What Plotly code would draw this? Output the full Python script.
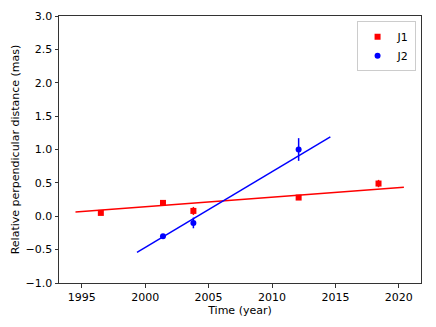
import plotly.graph_objects as go

# J1 measurements
j1_time = [1996.5, 2001.4, 2003.8, 2012.1, 2018.4]
j1_dist = [0.05, 0.20, 0.08, 0.28, 0.49]
j1_err = [0.03, 0.03, 0.06, 0.03, 0.055]

# J2 measurements
j2_time = [2001.4, 2003.8, 2012.1]
j2_dist = [-0.30, -0.10, 1.00]
j2_err = [0.03, 0.08, 0.17]

# linear fits (end points)
j1_fit_time = [1994.5, 2020.4]
j1_fit_dist = [0.065, 0.435]
j2_fit_time = [1999.35, 2014.6]
j2_fit_dist = [-0.54, 1.19]

fig = go.Figure()

fig.add_trace(go.Scatter(
    x=j1_fit_time, y=j1_fit_dist, mode='lines',
    line=dict(color='#ff0000', width=1.5),
    showlegend=False, hoverinfo='skip'
))
fig.add_trace(go.Scatter(
    x=j2_fit_time, y=j2_fit_dist, mode='lines',
    line=dict(color='#0000ff', width=1.5),
    showlegend=False, hoverinfo='skip'
))
fig.add_trace(go.Scatter(
    x=j1_time, y=j1_dist, mode='markers', name='J1',
    marker=dict(symbol='square', size=6, color='#ff0000'),
    error_y=dict(type='data', array=j1_err, color='#ff0000', thickness=1.5, width=0)
))
fig.add_trace(go.Scatter(
    x=j2_time, y=j2_dist, mode='markers', name='J2',
    marker=dict(symbol='circle', size=6, color='#0000ff'),
    error_y=dict(type='data', array=j2_err, color='#0000ff', thickness=1.5, width=0)
))

axis_style = dict(
    showline=True, linecolor='#333333', linewidth=1, mirror=True,
    ticks='outside', ticklen=3.5, tickcolor='#333333',
    showgrid=False, zeroline=False, automargin=False,
    tickfont=dict(family='DejaVu Sans', size=11, color='black'),
)

# the page body adds an 8px offset, so margins are shifted to compensate
fig.update_layout(
    width=436, height=327,
    margin=dict(l=51, r=23, t=8, b=52),
    paper_bgcolor='white', plot_bgcolor='white',
    font=dict(family='DejaVu Sans', size=11, color='black'),
    xaxis=dict(range=[1993.2, 2021.75], tickvals=[1995, 2000, 2005, 2010, 2015, 2020],
               title=dict(text='Time (year)', standoff=0, font=dict(size=11)), **axis_style),
    yaxis=dict(range=[-1.0, 3.0], tickvals=[-1.0, -0.5, 0.0, 0.5, 1.0, 1.5, 2.0, 2.5, 3.0],
               tickformat='.1f',
               title=dict(text='Relative perpendicular distance (mas)', standoff=3, font=dict(size=11)),
               **axis_style),
    legend=dict(x=0.985, y=0.98, xanchor='right', yanchor='top',
                bordercolor='#cccccc', borderwidth=1, bgcolor='rgba(255,255,255,0.8)',
                font=dict(size=11), itemwidth=30, tracegroupgap=0),
    showlegend=True,
)

fig.write_html("out.html")
